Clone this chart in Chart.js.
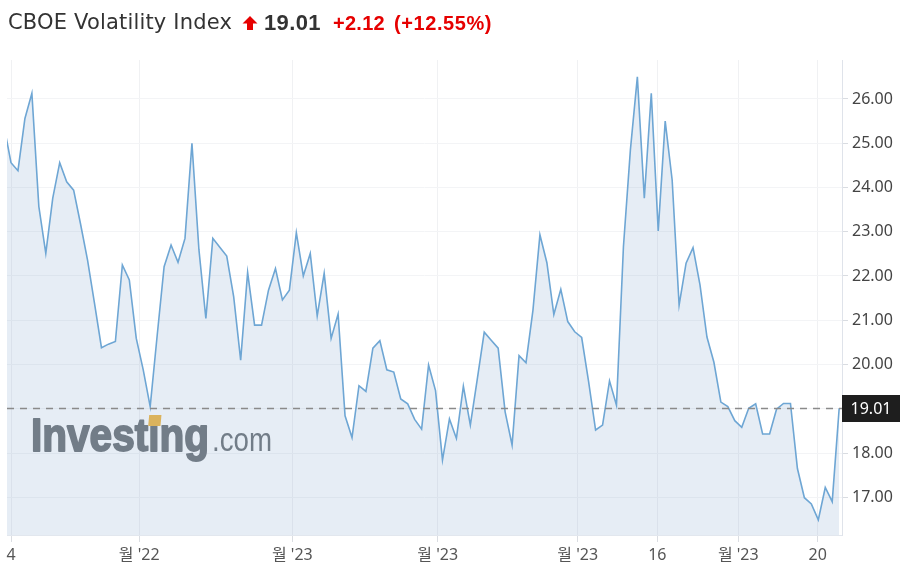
<!DOCTYPE html>
<html><head><meta charset="utf-8">
<script src="https://cdn.jsdelivr.net/npm/chart.js@4.4.1/dist/chart.umd.min.js"></script>
<style>
html,body{margin:0;padding:0;background:#fff;}
#wrap{position:relative;width:906px;height:575px;overflow:hidden;background:#fff;}
#c{position:absolute;left:0;top:0;}
.t{position:absolute;top:11px;font-family:"Liberation Sans",Arial,sans-serif;font-size:21px;line-height:24px;white-space:nowrap;}
#tName{font-family:"DejaVu Sans","Liberation Sans",sans-serif;font-size:21px;top:10px;}
#arrow{position:absolute;left:242px;top:16px;}
</style></head><body>
<div id="wrap">
<canvas id="c" width="906" height="575"></canvas>
<span class="t" id="tName" style="left:8px;color:#333;" data-w="224"></span>
<svg id="arrow" width="16" height="15" viewBox="0 0 16 15"><polygon points="8,0 15.5,7.5 11,7.5 11,14 5,14 5,7.5 0.5,7.5" fill="#e60000"/></svg>
<span class="t" id="tPrice" style="left:264px;color:#333;font-weight:bold;font-size:22px;" data-w="57"></span>
<span class="t" id="tChg" style="left:333px;color:#e60000;font-weight:bold;font-size:20px;" data-w="52"></span>
<span class="t" id="tPct" style="left:394px;color:#e60000;font-weight:bold;font-size:20px;" data-w="98"></span>
</div>
<script>
// ---- data ----
const title = "CBOE Volatility Index";
const lastPrice = "19.01";
const change = "+2.12";
const changePct = "(+12.55%)";

// daily closes (first value sits just left of the visible area)
const closes = [
 25.38,
 24.56,24.38,25.56,26.13,23.57,22.51,23.76,24.56,24.13,23.94,
 23.17,22.36,21.38,20.38,20.46,20.52,22.25,21.91,20.59,19.88,
 19.05,20.65,22.21,22.70,22.31,22.85,25.00,22.60,21.04,22.85,
 22.65,22.45,21.53,20.10,22.08,20.89,20.89,21.68,22.17,21.46,
 21.68,22.98,22.00,22.51,21.10,22.06,20.59,21.14,18.84,18.35,
 19.52,19.39,20.37,20.54,19.88,19.83,19.22,19.11,18.76,18.54,
 19.99,19.41,17.84,18.77,18.33,19.51,18.63,19.67,20.73,20.55,
 20.37,18.93,18.18,20.20,20.04,21.23,22.93,22.30,21.13,21.70,
 20.97,20.74,20.61,19.61,18.52,18.63,19.63,19.08,22.66,24.85,
 26.50,23.76,26.13,23.02,25.50,24.17,21.34,22.29,22.64,21.80,
 20.62,20.05,19.15,19.05,18.73,18.58,19.01,19.11,18.43,18.43,
 18.99,19.12,19.12,17.65,16.99,16.85,16.49,17.22,16.90,19.01
];
const xTickAt = [1, 19.43, 41.42, 62.31, 82.43, 93.87, 105.5, 116.92];
const xTickLabels = ["4", "월 '22", "월 '23", "월 '23", "월 '23", "16", "월 '23", "20"];
const yTicks = [17, 18, 19, 20, 21, 22, 23, 24, 25, 26];
const yHidden = [19];
const currentValue = 19.01;

// ---- title ----
const parts = [["tName", title], ["tPrice", lastPrice], ["tChg", change], ["tPct", changePct]];
parts.forEach(([id, txt]) => {
  const el = document.getElementById(id);
  el.textContent = txt;
  const target = +el.dataset.w;
  const w = el.getBoundingClientRect().width;
  const n = txt.length;
  el.style.letterSpacing = ((target - w) / n) + "px";
});

// ---- plugins ----
const watermark = {
  id: 'watermark',
  beforeDatasetsDraw(chart) {
    const ctx = chart.ctx;
    ctx.save();
    const grey = '#717579';
    ctx.fillStyle = grey;
    ctx.strokeStyle = grey;
    ctx.lineJoin = 'round';
    ctx.textBaseline = 'alphabetic';
    ctx.font = 'bold 46px "Liberation Sans", Arial, sans-serif';
    const w = ctx.measureText('Investing').width;
    const sx = 178 / w;
    const wPre = ctx.measureText('Invest').width;
    const wi = ctx.measureText('i').width;
    ctx.save();
    ctx.translate(31, 451);
    ctx.scale(sx, 1);
    ctx.lineWidth = 1.8;
    ctx.fillText('Investing', 0, 0);
    ctx.strokeText('Investing', 0, 0);
    ctx.restore();
    // yellow dot over the second "i"
    ctx.fillStyle = '#f2b844';
    const dx = 31 + wPre * sx;
    ctx.beginPath();
    ctx.moveTo(dx, 426);
    ctx.lineTo(dx + wi * sx + 1, 426);
    ctx.lineTo(dx + wi * sx + 2, 415);
    ctx.lineTo(dx + 1, 415);
    ctx.closePath();
    ctx.fill();
    ctx.fillStyle = grey;
    ctx.font = '34px "Liberation Sans", Arial, sans-serif';
    const w2 = ctx.measureText('.com').width;
    ctx.save();
    ctx.translate(212, 451);
    ctx.scale(60 / w2, 1);
    ctx.fillText('.com', 0, 0);
    ctx.restore();
    ctx.restore();
  }
};
const priceLine = {
  id: 'priceLine',
  afterDraw(chart) {
    const ctx = chart.ctx, a = chart.chartArea;
    const y = Math.round(chart.scales.y.getPixelForValue(currentValue)) + 0.5;
    ctx.save();
    ctx.strokeStyle = '#8a8a8a';
    ctx.lineWidth = 1.4;
    ctx.setLineDash([7, 6]);
    ctx.beginPath();
    ctx.moveTo(a.left, y);
    ctx.lineTo(a.right, y);
    ctx.stroke();
    ctx.setLineDash([]);
    ctx.fillStyle = '#1e1e1e';
    ctx.fillRect(a.right, y - 13.5, 58, 27);
    ctx.fillStyle = '#fff';
    ctx.font = '16px "Noto Sans", "Open Sans", sans-serif';
    ctx.textAlign = 'center';
    ctx.textBaseline = 'middle';
    ctx.fillText(currentValue.toFixed(2), a.right + 29, y + 1);
    ctx.restore();
  }
};

new Chart(document.getElementById('c'), {
  type: 'line',
  data: {
    datasets: [{
      data: closes.map((v, i) => ({x: i, y: v})),
      borderColor: '#6ea6d4',
      borderWidth: 1.6,
      backgroundColor: 'rgba(120,160,200,0.19)',
      fill: 'start',
      pointRadius: 0,
      tension: 0,
      clip: 0
    }]
  },
  plugins: [watermark, priceLine],
  options: {
    responsive: false,
    animation: false,
    devicePixelRatio: 1,
    layout: {padding: {left: 7, top: 60, right: 0, bottom: 0}},
    plugins: {legend: {display: false}, tooltip: {enabled: false}},
    scales: {
      x: {
        type: 'linear',
        min: 0.4252, max: 120.405,
        afterFit(s) { s.height = 40; },
        afterBuildTicks(s) { s.ticks = xTickAt.map(v => ({value: v})); },
        grid: {color: '#f0f1f3', tickColor: '#dadde2', tickLength: 7, lineWidth: 1},
        border: {display: true, color: '#e2e7ee'},
        ticks: {
          autoSkip: false, maxRotation: 0, padding: 4,
          color: '#555',
          font: {family: '"Noto Sans", "Noto Sans CJK KR", sans-serif', size: 16},
          callback: (v, i) => xTickLabels[i]
        }
      },
      y: {
        position: 'right',
        min: 16.147, max: 26.881,
        afterFit(s) { s.width = 64; },
        afterBuildTicks(s) { s.ticks = yTicks.map(v => ({value: v})); },
        grid: {color: '#f3f4f6', tickColor: '#d9dce1', tickLength: 6, lineWidth: 1},
        border: {display: true, color: '#dfe3ea'},
        ticks: {
          padding: 4, color: '#444',
          font: {family: '"Noto Sans", "Open Sans", sans-serif', size: 16},
          callback: (v) => yHidden.includes(v) ? '' : v.toFixed(2)
        }
      }
    }
  }
});
</script>
</body></html>
